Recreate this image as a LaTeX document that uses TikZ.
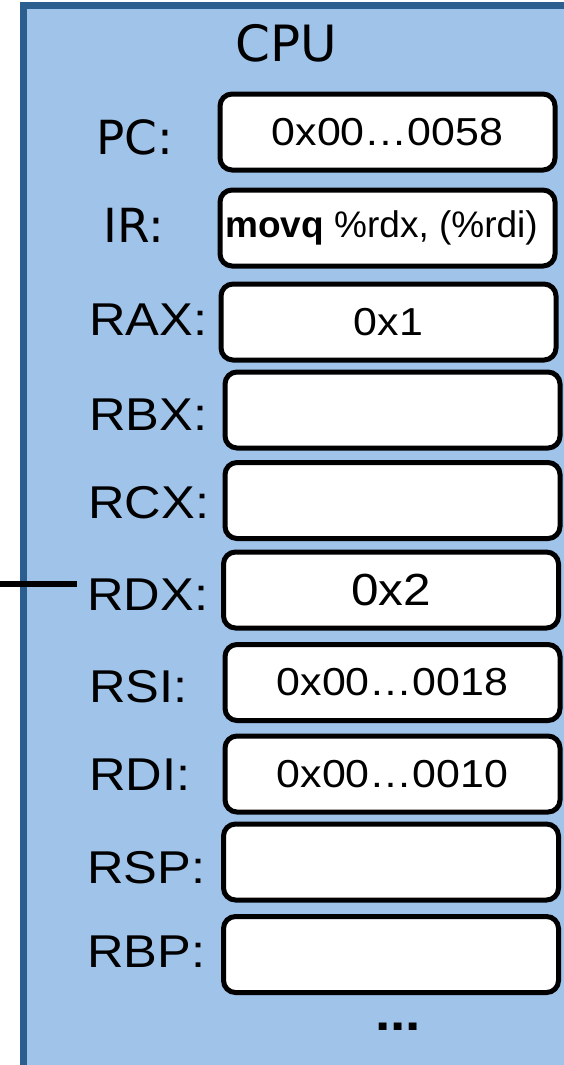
\documentclass[tikz,border=0pt]{standalone}
\usepackage{fontspec}
\setmainfont{Liberation Sans}[FakeStretch=1.1]
\newfontfamily\plainsans{Liberation Sans}
\newfontfamily\verdana{DejaVu Sans}
\usepackage{tikz}
\usetikzlibrary{positioning}
\definecolor{cpufill}{HTML}{A0C3E9}
\definecolor{cpuedge}{HTML}{2C5E90}
\tikzstyle{reg} = [rectangle,
rounded corners=12pt,
draw=black, line width=5pt,
fill=white,
minimum width=335pt,
minimum height=76pt,
inner sep=0pt,
font=\fontsize{39}{44}\selectfont]
\tikzstyle{regname} = [anchor=base west, inner sep=0pt,
font=\fontsize{46}{50}\selectfont]
\tikzstyle{special} = [anchor=base, inner sep=0pt,
font=\verdana\fontsize{47}{52}\selectfont]
\tikzstyle{bus} = [line width=6pt]

\begin{document}
\begin{tikzpicture}[x=1pt, y=-1pt]
            \useasboundingbox (0,0) rectangle (563,1065);
            \draw [cpuedge, fill=cpufill, line width=7pt] (23,6) rectangle (620,1068);
            \node (cpu) [special, font=\verdana\fontsize{50}{54}\selectfont] at (286,62) {CPU};

            % registers
            \node (pc) [reg] at (387.5,132) {0x00…0058};
            \node (ir) [reg, font=\plainsans\fontsize{37}{40}\selectfont] at (387.5,228) {\hspace*{-12pt}\textbf{movq} \%rdx, (\%rdi)};
            \node (rax) [reg] at (388.5,322) {0x1};
            \node (rbx) [reg] at (392.5,410) {};
            \node (rcx) [reg] at (392.5,500.5) {};
            \node (rdx) [reg, font=\fontsize{45}{50}\selectfont] at (391,590) {0x2};
            \node (rsi) [reg] at (392.5,682.5) {0x00…0018};
            \node (rdi) [reg] at (392.5,774) {0x00…0010};
            \node (rsp) [reg] at (391,862) {};
            \node (rbp) [reg] at (391,954.5) {};
            \node (more) [anchor=base, inner sep=0pt, font=\bfseries\fontsize{50}{54}\selectfont] at (398,1030) {...};

            % names
            \node (pcname) [special] at (135,154) {PC:};
            \node (irname) [special] at (134,242) {IR:};
            \node (raxname) [regname] at (89,335) {RAX:};
            \node (rbxname) [regname] at (89,430) {RBX:};
            \node (rcxname) [regname] at (88,518) {RCX:};
            \node (rdxname) [regname] at (87,610) {RDX:};
            \node (rsiname) [regname] at (89,702) {RSI:};
            \node (rdiname) [regname] at (89,790) {RDI:};
            \node (rspname) [regname] at (87,883) {RSP:};
            \node (rbpname) [regname] at (87,967) {RBP:};

            \coordinate (busin) at (0,584);
            \draw [bus, shorten >=10pt] (busin) -- (busin -| rdxname.west);
        \end{tikzpicture}
\end{document}
